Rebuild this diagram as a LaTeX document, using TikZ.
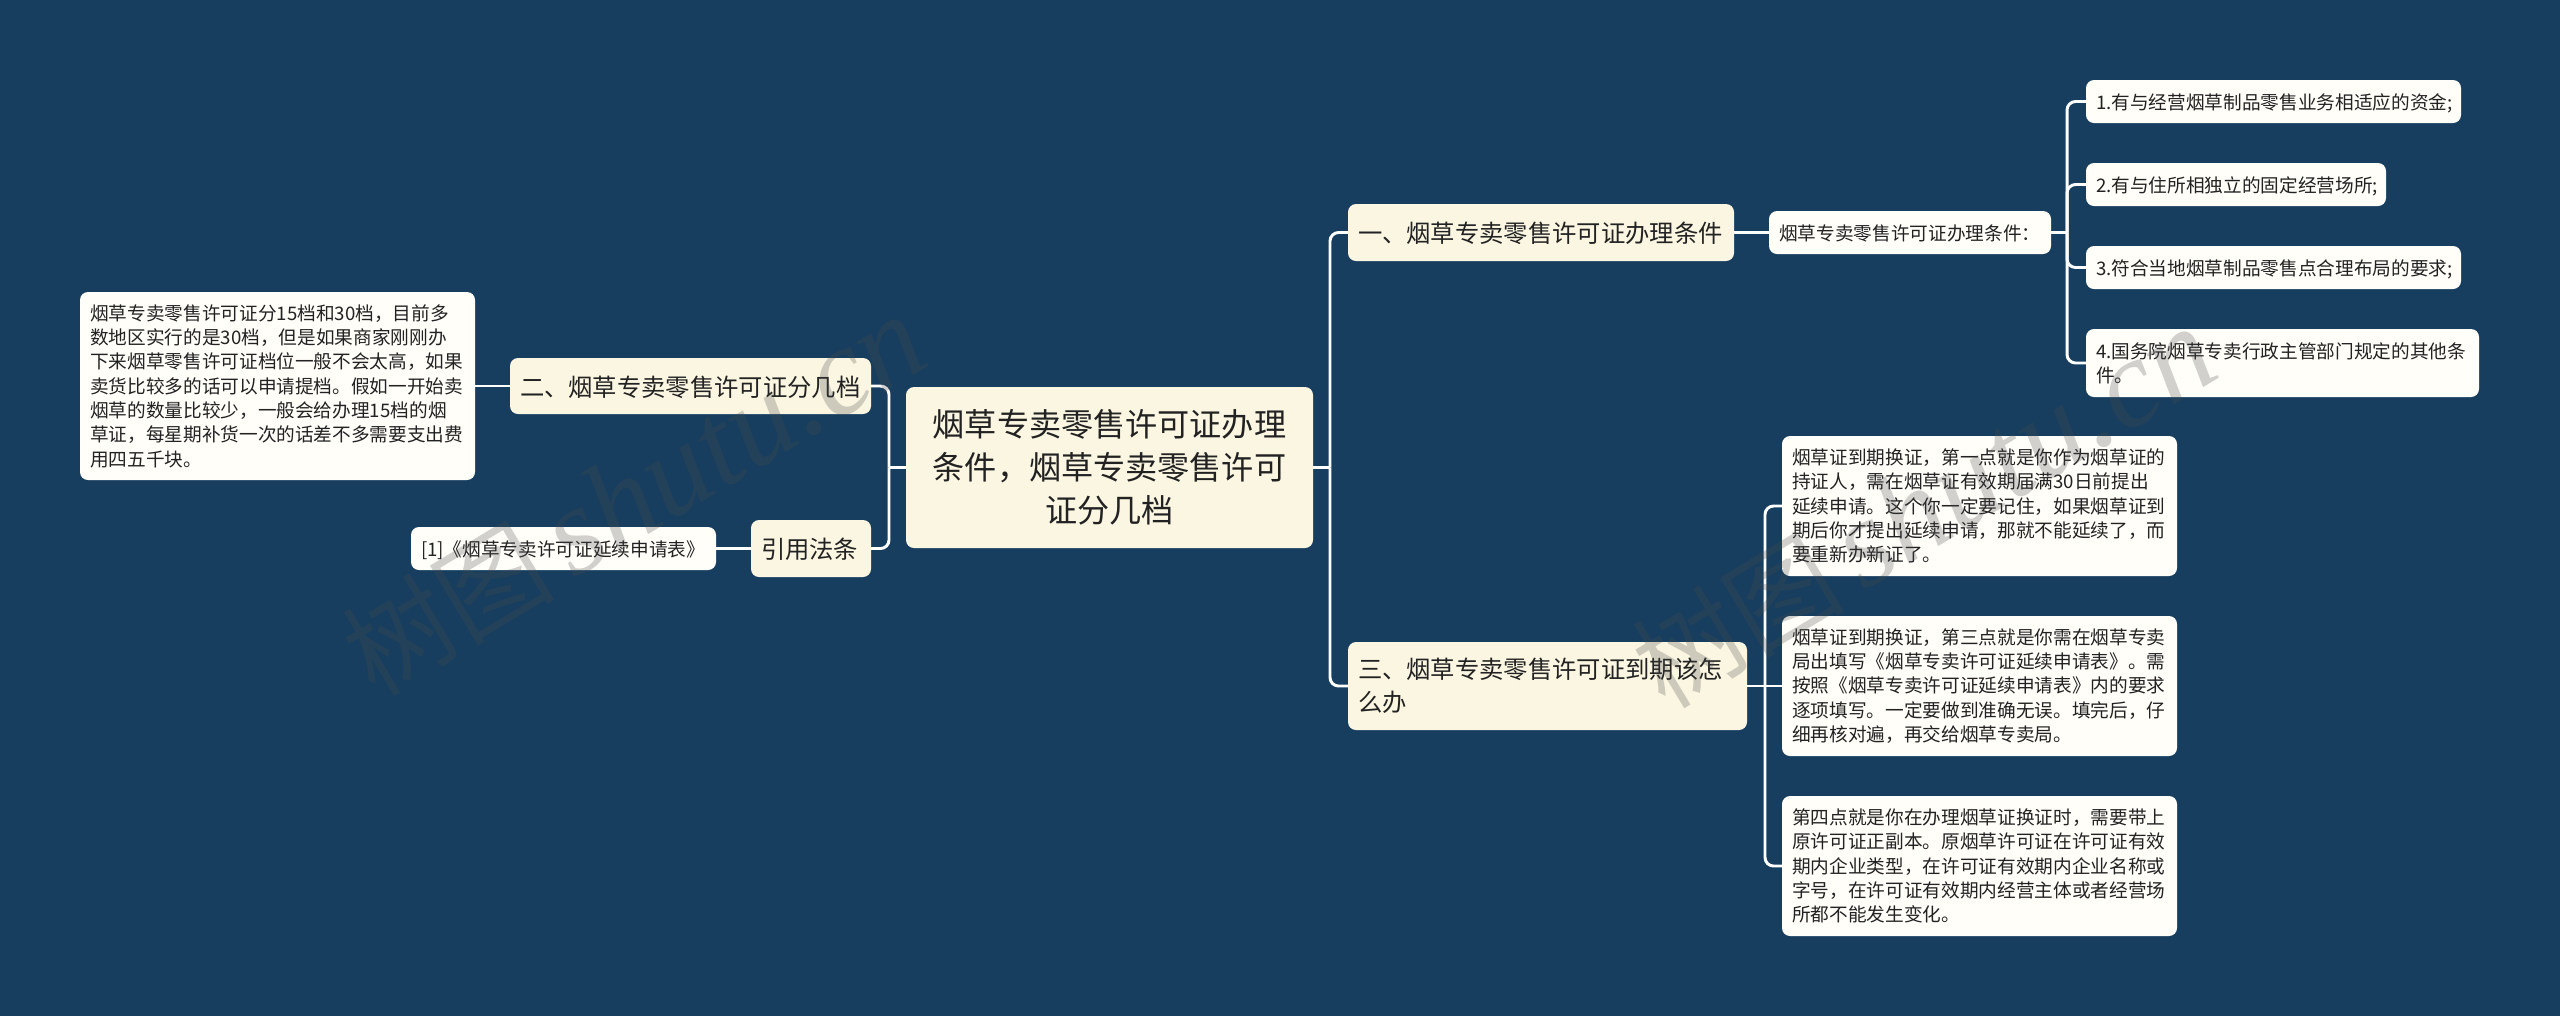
\documentclass[tikz,border=0pt]{standalone}
\usepackage{fontspec}
\setmainfont{Noto Sans CJK SC}
\newfontfamily\wmfont{Liberation Serif}
\definecolor{bgblue}{HTML}{173E5F}
\definecolor{cream}{HTML}{FAF6E2}
\definecolor{paper}{HTML}{FFFEF9}
\definecolor{ink}{HTML}{222222}
\definecolor{wmgrey}{HTML}{4A4A4A}
\tikzset{
  boxsize/.style 2 args={minimum width={#1*0.375pt}, minimum height={#2*0.375pt},
    text width={(#1-20)*0.375pt}, inner xsep=3.75pt, inner ysep=0pt, outer sep=0pt},
  base/.style={rounded corners=3pt, text=ink, align=left},
  rootbox/.style={base, fill=cream, align=center, font=\fontsize{12.05}{16.1}\selectfont},
  mainbox/.style={base, fill=cream, font=\fontsize{9.12}{12.4}\selectfont},
  leafbox/.style={base, fill=paper, font=\fontsize{7}{9.12}\selectfont},
  mainone/.style={mainbox, text height=7.6pt, text depth=0pt},
  leafone/.style={leafbox, text height=6.1pt, text depth=0pt},
  conn/.style={draw=white, line width=1.1pt, rounded corners=3.2pt},
  wm/.style={text=wmgrey, text opacity=.25, rotate=31, anchor=center, inner sep=0pt}
}
\newcommand{\wmtext}{\fontsize{40}{40}\selectfont 树图\,{\wmfont\itshape\fontsize{47}{47}\selectfont shutu.cn}}
\begin{document}
\begin{tikzpicture}[x=0.375pt,y=-0.375pt]
\fill[bgblue] (0,0) rectangle (2560,1016);

\node[rootbox, boxsize={407}{161}] (root) at (1109.5,467.5) {烟草专卖零售许可证办理\\条件，烟草专卖零售许可\\证分几档};

\node[mainone, boxsize={361}{56}] (n2) at (690.5,386) {二、烟草专卖零售许可证分几档};
\node[mainone, boxsize={120}{57}] (ref) at (811,548.5) {引用法条};
\node[mainone, boxsize={386}{57}] (n1) at (1541,232.5) {一、烟草专卖零售许可证办理条件};
\node[mainbox, boxsize={399}{88}] (n3) at (1547.5,686) {三、烟草专卖零售许可证到期该怎\\么办};

\node[leafbox, boxsize={395}{188}] (detail) at (277.5,386) {烟草专卖零售许可证分15档和30档，目前多\\数地区实行的是30档，但是如果商家刚刚办\\下来烟草零售许可证档位一般不会太高，如果\\卖货比较多的话可以申请提档。假如一开始卖\\烟草的数量比较少，一般会给办理15档的烟\\草证，每星期补货一次的话差不多需要支出费\\用四五千块。};
\node[leafone, boxsize={305}{43}] (cite) at (563.5,548.5) {[1]《烟草专卖许可证延续申请表》};

\node[leafone, boxsize={282}{43}] (sub) at (1910,232.5) {烟草专卖零售许可证办理条件：};
\node[leafone, boxsize={375}{43}] (it1) at (2273.5,101.5) {1.有与经营烟草制品零售业务相适应的资金;};
\node[leafone, boxsize={300}{43}] (it2) at (2236,184.5) {2.有与住所相独立的固定经营场所;};
\node[leafone, boxsize={375}{43}] (it3) at (2273.5,267.5) {3.符合当地烟草制品零售点合理布局的要求;};
\node[leafbox, boxsize={393}{68}] (it4) at (2282.5,363) {4.国务院烟草专卖行政主管部门规定的其他条\\件。};

\node[leafbox, boxsize={395}{140}] (a) at (1979.5,506) {烟草证到期换证，第一点就是你作为烟草证的\\持证人，需在烟草证有效期届满30日前提出\\延续申请。这个你一定要记住，如果烟草证到\\期后你才提出延续申请，那就不能延续了，而\\要重新办新证了。};
\node[leafbox, boxsize={395}{140}] (b) at (1979.5,686) {烟草证到期换证，第三点就是你需在烟草专卖\\局出填写《烟草专卖许可证延续申请表》。需\\按照《烟草专卖许可证延续申请表》内的要求\\逐项填写。一定要做到准确无误。填完后，仔\\细再核对遍，再交给烟草专卖局。};
\node[leafbox, boxsize={395}{140}] (c) at (1979.5,866) {第四点就是你在办理烟草证换证时，需要带上\\原许可证正副本。原烟草许可证在许可证有效\\期内企业类型，在许可证有效期内企业名称或\\字号，在许可证有效期内经营主体或者经营场\\所都不能发生变化。};

\coordinate (busL) at (889,467.5);
\coordinate (busR) at (1330,467.5);
\coordinate (busS) at (2067,232.5);
\coordinate (busT) at (1765,686);

\draw[conn] (root.west) -- (busL);
\draw[conn] (n2.east) -| (busL);
\draw[conn] (ref.east) -| (busL);
\draw[conn] (n2.west) -- (detail.east);
\draw[conn] (ref.west) -- (cite.east);
\draw[conn] (root.east) -- (busR);
\draw[conn] (n1.west) -| (busR);
\draw[conn] (n3.west) -| (busR);
\draw[conn] (n1.east) -- (sub.west);
\draw[conn] (sub.east) -- (busS);
\draw[conn] (it1.west) -| (busS);
\draw[conn] (it2.west) -| (busS);
\draw[conn] (it3.west) -| (busS);
\draw[conn] (it4.west) -| (busS);
\draw[conn] (n3.east) -- (b.west);
\draw[conn] (a.west) -| (busT);
\draw[conn] (c.west) -| (busT);

\node[wm] (wmL) at (634,496) {\wmtext};
\node[wm] (wmR) at (1924,508) {\wmtext};
\end{tikzpicture}
\end{document}
